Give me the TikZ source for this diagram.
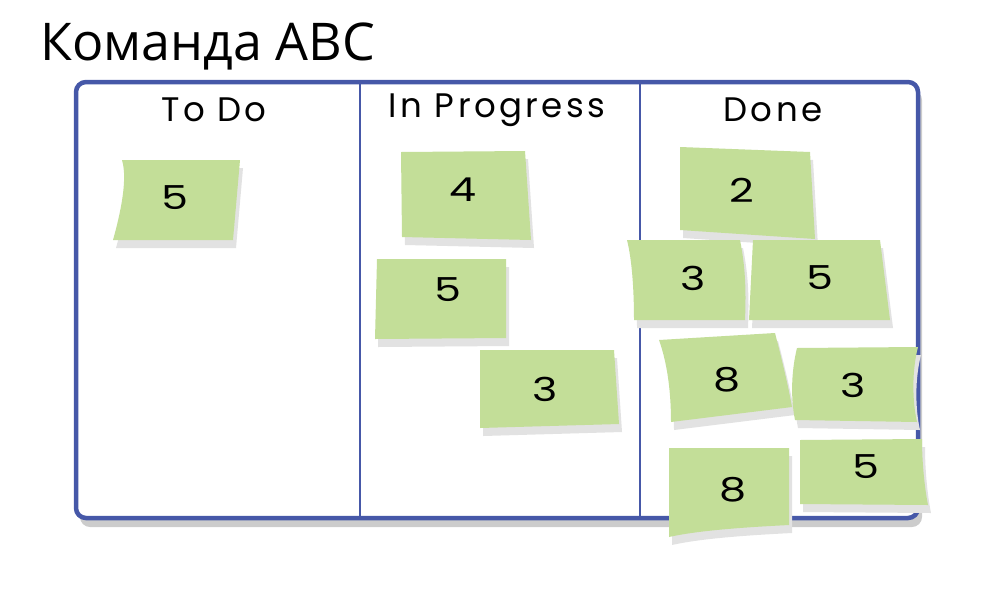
\documentclass[tikz,border=0pt]{standalone}
\usepackage{fontspec}
\setmainfont{Open Sans}
\newfontfamily\hand[LetterSpace=10]{Poppins}
\newfontfamily\digits{Poppins}
\definecolor{boardblue}{RGB}{70,88,168}
\definecolor{boardshadow}{RGB}{204,204,204}
\definecolor{notegreen}{RGB}{195,222,152}
\definecolor{noteshadowc}{RGB}{226,226,226}
\tikzset{
  board/.style={draw=boardblue, line width=4.5pt, rounded corners=10pt, fill=white},
  boardshade/.style={fill=boardshadow, rounded corners=10pt},
  divider/.style={draw=boardblue, line width=1.6pt},
  header/.style={font=\hand\fontsize{34}{34}\selectfont, inner sep=0pt},
  num/.style={font=\digits\fontsize{33}{33}\selectfont, inner sep=0pt, xscale=1.3},
  titletext/.style={font=\fontsize{52}{52}\selectfont, inner sep=0pt, anchor=base west},
}
\newcommand\stickynote[1]{%
  \fill[noteshadowc, shift={(3,8)}] #1;
  \fill[notegreen] #1;
}
\begin{document}
\begin{tikzpicture}[x=1pt, y=-1pt]
\useasboundingbox (0,0) rectangle (1000,600);
\node[titletext] (title) at (40,60) {Команда ABC};
% board
\fill[boardshade] (80,90) rectangle (922,527);
\draw[board] (76,82) rectangle (918,518);
\coordinate (d1t) at (360,84); \coordinate (d1b) at (360,516);
\coordinate (d2t) at (640,84); \coordinate (d2b) at (640,516);
\draw[divider] (d1t) -- (d1b);
\draw[divider] (d2t) -- (d2b);
\node[header] (h1) at (214,110) {To Do};
\node[header] (h2) at (497,110) {In Progress};
\node[header] (h3) at (773,110) {Done};
% notes
\stickynote{(122,160) -- (240,160) -- (233,240) -- (113,240) .. controls (120,215) and (128,180) .. (122,160) -- cycle}
\node[num] (n1) at (175,198) {5};
\stickynote{(401,152) -- (525,151) -- (531,240) -- (402,237) -- cycle}
\node[num] (n2) at (463,190) {4};
\stickynote{(377,259) -- (506,259) -- (506,338) -- (375,339) -- cycle}
\node[num] (n3) at (448,290) {5};
\stickynote{(480,350) -- (614,350) -- (619,424) -- (480,428) -- cycle}
\node[num] (n4) at (545,389) {3};
\stickynote{(680,147) -- (810,152) -- (815,239) -- (680,230) -- cycle}
\node[num] (n5) at (742,190) {2};
\stickynote{(627,240) -- (740,240) .. controls (746,270) and (746,295) .. (745,320) -- (634,320) .. controls (634,290) and (632,260) .. (627,240) -- cycle}
\node[num] (n6) at (693,278) {3};
\stickynote{(753,240) -- (880,240) -- (890,320) -- (749,320) -- cycle}
\node[num] (n7) at (820,278) {5};
\stickynote{(659,340) -- (775,333) .. controls (782,360) and (788,385) .. (792,407) -- (671,422) .. controls (671,395) and (668,365) .. (659,340) -- cycle}
\node[num] (n8) at (727,380) {8};
\stickynote{(797,348) -- (918,347) .. controls (912,370) and (912,400) .. (917,422) -- (795,420) .. controls (790,395) and (792,368) .. (797,348) -- cycle}
\node[num] (n9) at (853,385) {3};
\stickynote{(669,448) -- (789,448) -- (789,525) .. controls (750,527) and (700,530) .. (669,537) -- cycle}
\node[num] (n10) at (733,490) {8};
\stickynote{(800,440) -- (922,439) .. controls (922,465) and (925,490) .. (928,505) -- (800,504) -- cycle}
\node[num] (n11) at (866,467) {5};
\end{tikzpicture}
\end{document}
